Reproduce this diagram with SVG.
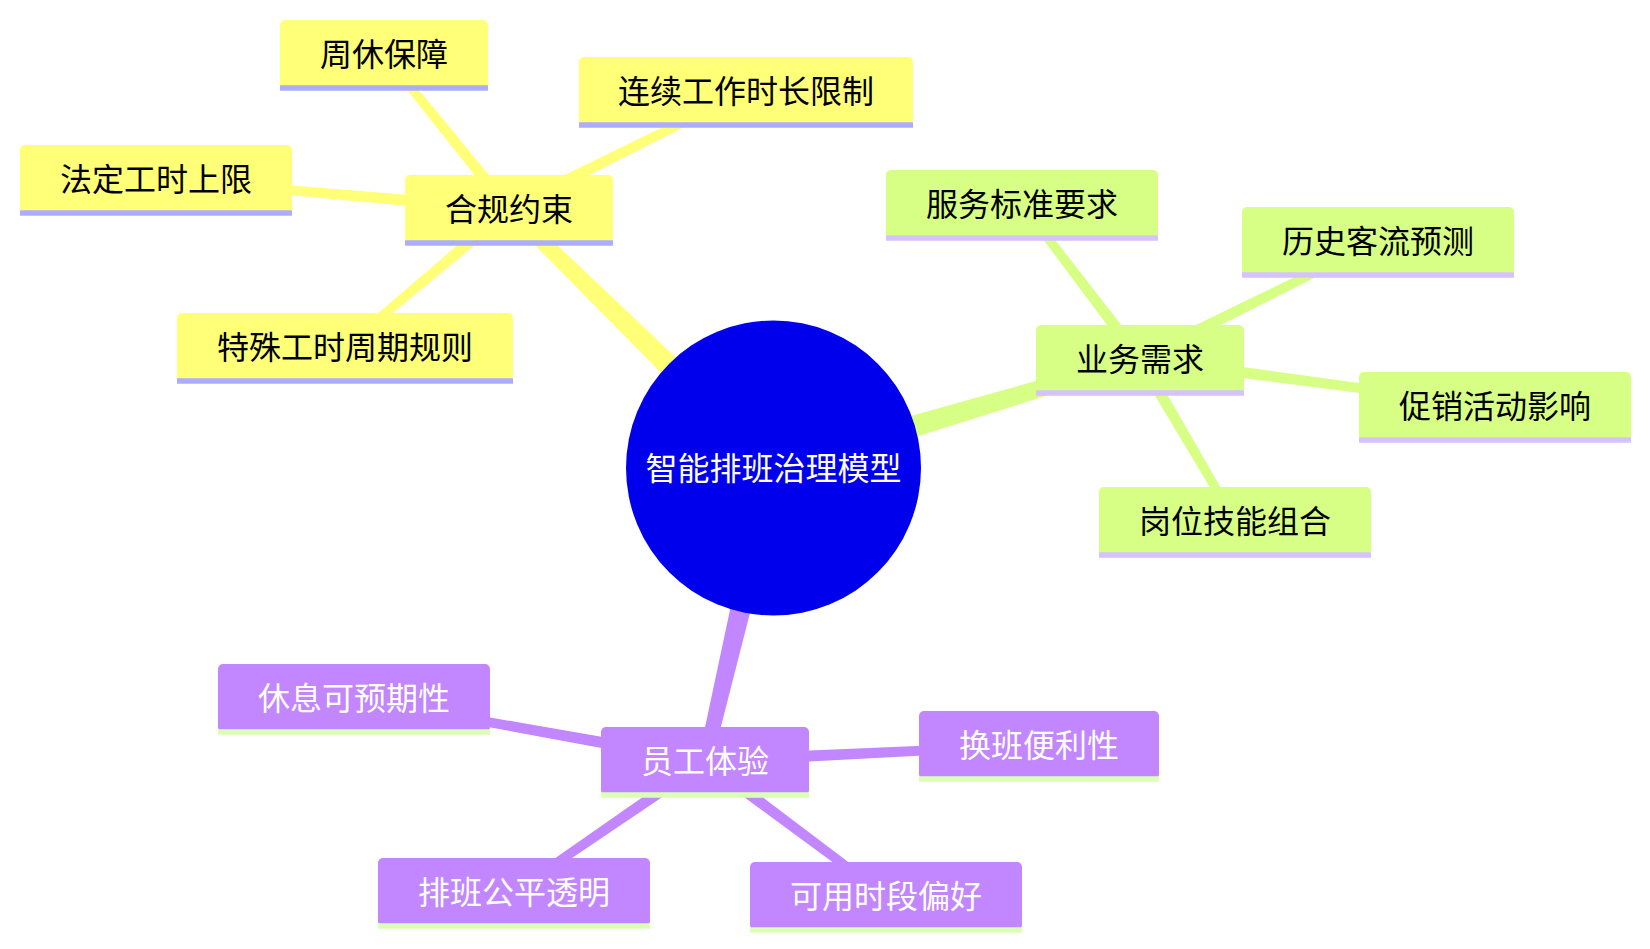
<svg xmlns="http://www.w3.org/2000/svg" width="1650" height="949" viewBox="0 0 1650 949">
<style>
text{font-family:"Noto Sans CJK SC","Noto Sans",sans-serif;font-size:32px;text-anchor:middle}
.s0 rect{fill:#ffff78}.s0 line{stroke:#adadff;stroke-width:5.5}.s0 text{fill:#000}
.s1 rect{fill:#d7ff86}.s1 line{stroke:#d5c2ff;stroke-width:5.5}.s1 text{fill:#000}
.s2 rect{fill:#c286ff}.s2 line{stroke:#dcffb8;stroke-width:5.5}.s2 text{fill:#fff}
.e0{fill:#ffff78}.e1{fill:#d7ff86}.e2{fill:#c286ff}
</style>
<rect width="1650" height="949" fill="#fff"/>
<g id="connectors">
<polygon class="e0" points="0,-13 370.2,-7 370.2,7 0,13" transform="translate(773.5,468) rotate(-135.6)"/>
<polygon class="e1" points="0,-13 382.4,-7 382.4,7 0,13" transform="translate(773.5,468) rotate(-16.56)"/>
<polygon class="e2" points="0,-13 300.9,-7 300.9,7 0,13" transform="translate(773.5,468) rotate(103.16)"/>
<polygon class="e0" points="0,-6 199.1,-4.25 199.1,4.25 0,6" transform="translate(509,209) rotate(-128.88)"/>
<polygon class="e0" points="0,-6 264.8,-4.25 264.8,4.25 0,6" transform="translate(509,209) rotate(-26.47)"/>
<polygon class="e0" points="0,-6 354.3,-4.25 354.3,4.25 0,6" transform="translate(509,209) rotate(-175.14)"/>
<polygon class="e0" points="0,-6 214.3,-4.25 214.3,4.25 0,6" transform="translate(509,209) rotate(139.92)"/>
<polygon class="e1" points="0,-6 194.8,-4.25 194.8,4.25 0,6" transform="translate(1140,359) rotate(-127.28)"/>
<polygon class="e1" points="0,-6 265.6,-4.25 265.6,4.25 0,6" transform="translate(1140,359) rotate(-26.37)"/>
<polygon class="e1" points="0,-6 358.1,-4.25 358.1,4.25 0,6" transform="translate(1140,359) rotate(7.54)"/>
<polygon class="e1" points="0,-6 187.8,-4.25 187.8,4.25 0,6" transform="translate(1140,359) rotate(59.61)"/>
<polygon class="e2" points="0,-6 356.6,-4.25 356.6,4.25 0,6" transform="translate(705,761) rotate(-169.82)"/>
<polygon class="e2" points="0,-6 334.4,-4.25 334.4,4.25 0,6" transform="translate(705,761) rotate(-2.74)"/>
<polygon class="e2" points="0,-6 231.6,-4.25 231.6,4.25 0,6" transform="translate(705,761) rotate(145.56)"/>
<polygon class="e2" points="0,-6 225.8,-4.25 225.8,4.25 0,6" transform="translate(705,761) rotate(36.72)"/>
</g>
<g id="root">
<circle cx="773.5" cy="468" r="147.5" fill="#0000ec"/>
<text x="773.5" y="480" fill="#fff">智能排班治理模型</text>
</g>
<g id="n-heguiyueshu" class="s0" transform="translate(405,175)"><rect width="208" height="68" rx="5"/><line x1="0" y1="68" x2="208" y2="68"/><text x="104" y="46">合规约束</text></g>
<g id="n-zhouxiu" class="s0" transform="translate(280,20)"><rect width="208" height="68" rx="5"/><line x1="0" y1="68" x2="208" y2="68"/><text x="104" y="46">周休保障</text></g>
<g id="n-lianxu" class="s0" transform="translate(579,57)"><rect width="334" height="68" rx="5"/><line x1="0" y1="68" x2="334" y2="68"/><text x="167" y="46">连续工作时长限制</text></g>
<g id="n-fading" class="s0" transform="translate(20,145)"><rect width="272" height="68" rx="5"/><line x1="0" y1="68" x2="272" y2="68"/><text x="136" y="46">法定工时上限</text></g>
<g id="n-teshu" class="s0" transform="translate(177,313)"><rect width="336" height="68" rx="5"/><line x1="0" y1="68" x2="336" y2="68"/><text x="168" y="46">特殊工时周期规则</text></g>
<g id="n-yewuxuqiu" class="s1" transform="translate(1036,325)"><rect width="208" height="68" rx="5"/><line x1="0" y1="68" x2="208" y2="68"/><text x="104" y="46">业务需求</text></g>
<g id="n-fuwu" class="s1" transform="translate(886,170)"><rect width="272" height="68" rx="5"/><line x1="0" y1="68" x2="272" y2="68"/><text x="136" y="46">服务标准要求</text></g>
<g id="n-lishi" class="s1" transform="translate(1242,207)"><rect width="272" height="68" rx="5"/><line x1="0" y1="68" x2="272" y2="68"/><text x="136" y="46">历史客流预测</text></g>
<g id="n-cuxiao" class="s1" transform="translate(1359,372)"><rect width="272" height="68" rx="5"/><line x1="0" y1="68" x2="272" y2="68"/><text x="136" y="46">促销活动影响</text></g>
<g id="n-gangwei" class="s1" transform="translate(1099,487)"><rect width="272" height="68" rx="5"/><line x1="0" y1="68" x2="272" y2="68"/><text x="136" y="46">岗位技能组合</text></g>
<g id="n-yuangong" class="s2" transform="translate(601,727)"><rect width="208" height="68" rx="5"/><line x1="0" y1="68" x2="208" y2="68"/><text x="104" y="46">员工体验</text></g>
<g id="n-xiuxi" class="s2" transform="translate(218,664)"><rect width="272" height="68" rx="5"/><line x1="0" y1="68" x2="272" y2="68"/><text x="136" y="46">休息可预期性</text></g>
<g id="n-huanban" class="s2" transform="translate(919,711)"><rect width="240" height="68" rx="5"/><line x1="0" y1="68" x2="240" y2="68"/><text x="120" y="46">换班便利性</text></g>
<g id="n-paiban" class="s2" transform="translate(378,858)"><rect width="272" height="68" rx="5"/><line x1="0" y1="68" x2="272" y2="68"/><text x="136" y="46">排班公平透明</text></g>
<g id="n-keyong" class="s2" transform="translate(750,862)"><rect width="272" height="68" rx="5"/><line x1="0" y1="68" x2="272" y2="68"/><text x="136" y="46">可用时段偏好</text></g>
</svg>
